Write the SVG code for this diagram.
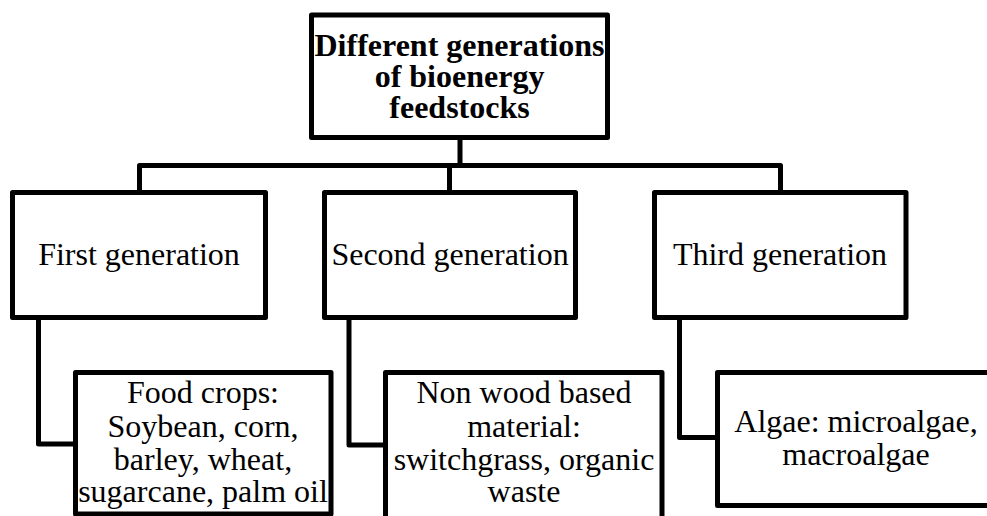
<svg xmlns="http://www.w3.org/2000/svg" width="987" height="516" viewBox="0 0 987 516">
<style>
.box{fill:#fff;stroke:#000;stroke-width:5;stroke-linejoin:round}
.con{fill:none;stroke:#000;stroke-width:5;stroke-linejoin:round}
.t{font-family:"Liberation Serif","Times New Roman",serif;font-size:32px;fill:#000;text-anchor:middle}
.b{font-weight:bold}
</style>
<rect width="987" height="516" fill="#fff"/>
<g id="connectors">
<path class="con" d="M460,137.5V165.5"/>
<path class="con" d="M139.5,192.5V165.5H780.5V192.5"/>
<path class="con" d="M449.5,165.5V192.5"/>
<path class="con" d="M38.5,317.5V444H75.5"/>
<path class="con" d="M349,317.5V445H385.5"/>
<path class="con" d="M679.5,317.5V437.5H717.5"/>
</g>
<g id="root">
<rect class="box" x="311.5" y="15" width="296" height="122.5"/>
<text class="t b" x="459.5" y="55.5">Different generations</text>
<text class="t b" x="459.5" y="86.5">of bioenergy</text>
<text class="t b" x="459.5" y="117.5">feedstocks</text>
</g>
<g id="first">
<rect class="box" x="12.5" y="192.5" width="253" height="125"/>
<text class="t" x="139" y="265">First generation</text>
</g>
<g id="second">
<rect class="box" x="324.5" y="192.5" width="251" height="125"/>
<text class="t" x="450" y="265">Second generation</text>
</g>
<g id="third">
<rect class="box" x="654.5" y="192.5" width="251.5" height="125"/>
<text class="t" x="780" y="265">Third generation</text>
</g>
<g id="food">
<rect class="box" x="75.5" y="372.5" width="255.5" height="141.5"/>
<text class="t" x="203" y="403">Food crops:</text>
<text class="t" x="203" y="437">Soybean, corn,</text>
<text class="t" x="203" y="470">barley, wheat,</text>
<text class="t" x="203" y="502">sugarcane, palm oil</text>
</g>
<g id="nonwood">
<rect class="box" x="385.5" y="372.5" width="276.5" height="160"/>
<text class="t" x="524" y="403">Non wood based</text>
<text class="t" x="524" y="437">material:</text>
<text class="t" x="524" y="470">switchgrass, organic</text>
<text class="t" x="524" y="502">waste</text>
</g>
<g id="algae">
<rect class="box" x="717.5" y="372.5" width="285" height="133"/>
<text class="t" x="856" y="432">Algae: microalgae,</text>
<text class="t" x="856" y="465">macroalgae</text>
</g>
</svg>
